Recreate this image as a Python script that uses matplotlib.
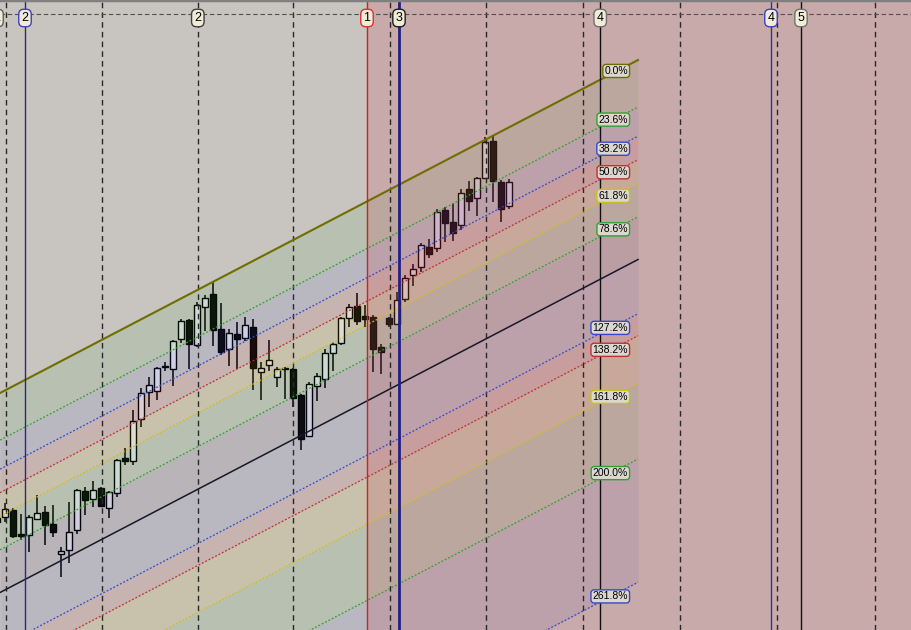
import numpy as np
import matplotlib.pyplot as plt

# candles: bar index, OHLC in price units (no price axis shown on the chart)
bar_idx = np.arange(-1, 64)
opens = [112, 113.5, 120, 95.7, 95.3, 110.7, 118, 105.7, 75.7, 79.7,
         99.7, 139, 130.7, 141.7, 121.7, 136.7, 171.7, 169.3, 210.7, 237.7,
         239.3, 264.5, 261.3, 290.7, 310, 284.7, 323.3, 336, 300.7, 281.3,
         295.7, 292.3, 302.7, 257.7, 264.7, 252.7, 262, 260.7, 235, 193.7,
         244.3, 251.3, 277.3, 287.3, 312.3, 324, 314, 312.7, 282.7, 311.7,
         306.3, 331.3, 354.7, 363.3, 383, 381.7, 420, 407.7, 404.7, 440.7,
         431.7, 451.7, 489.3, 448, 423.7]
highs = [115, 126.7, 122, 116, 115, 135, 124.3, 125, 82.7, 128,
         141, 143, 149, 143.3, 139.3, 170.7, 181.7, 220, 242, 253.3,
         263.3, 268.3, 290, 311, 311, 328, 335, 347.7, 326.7, 300.7,
         308.3, 312.7, 311, 268.3, 290, 263, 263.3, 262.3, 236, 248.3,
         256.7, 281, 288, 313.3, 326, 337.3, 325, 314.7, 286, 313,
         337.7, 355, 366, 386.7, 391, 420.7, 423.3, 426.7, 441, 449,
         453.3, 493.3, 495, 450, 450.7]
lows = [106, 108.5, 92.5, 90, 78.3, 110, 85, 93.3, 52.7, 67.3,
        95.7, 115.3, 123.3, 124, 112.3, 133.3, 165, 165, 203.3, 223.3,
        230, 259.3, 244.3, 286.7, 261, 283, 299.3, 284, 275, 264,
        260.7, 289.3, 240, 230, 259.3, 243.3, 231.3, 223.3, 180, 193,
        229.3, 241.7, 259.3, 285, 302.7, 305, 302.7, 258.3, 256, 303.3,
        305.5, 328.3, 344, 358.3, 371.7, 378.3, 388.3, 389.3, 400, 419.3,
        414.3, 451, 428.3, 408.3, 420.7]
closes = [108.5, 120.7, 94, 94.3, 112.7, 116.7, 105.3, 98.3, 78.7, 97.7,
          140, 130.3, 139.7, 124.3, 137.7, 169.7, 168.7, 209, 236.7, 244.7,
          261.7, 263, 289, 309, 285.7, 325, 331.7, 300.3, 278.3, 296.7,
          291.3, 304.7, 262.3, 261.7, 270, 261, 260.7, 232.3, 190.7, 245.7,
          253.7, 277, 285.7, 311.7, 322.7, 309.3, 310.7, 281.3, 278.3, 306.3,
          329.7, 351.7, 360.7, 384.7, 376.3, 417.7, 406.7, 396.7, 436.7, 428.7,
          451.7, 487.7, 448.7, 420.7, 448]

# fibonacci channel
fib_levels = [0.0, 0.236, 0.382, 0.5, 0.618, 0.786, 1.0, 1.272, 1.382, 1.618, 2.0, 2.618]
fib_labels = ["0.0%", "23.6%", "38.2%", "50.0%", "61.8%", "78.6%", "100.0%",
              "127.2%", "138.2%", "161.8%", "200.0%", "261.8%"]
fib_colors = ["#6e6e00", "#30a030", "#3848c8", "#c03030", "#c8c020", "#30a030",
              "#181828", "#3848c8", "#c03030", "#c8c020", "#30a030", "#3848c8"]
fib_fill = ["#6e6e00", "#30a030", "#3848c8", "#c03030", "#d0b000", "#30a030",
            "#303078", "#3848c8", "#c03030", "#d0b000", "#30a030", "#3848c8"]
chan_x = np.array([-0.625, 79.125])
chan_top = np.array([237.0, 570.0])
chan_width = 199.5

# time markers on top of the chart
marker_x = [-1.0, 2.5, 24.1, 45.25, 49.25, 74.4, 95.75, 99.5]
marker_text = ["1", "2", "2", "1", "3", "4", "4", "5"]
marker_edge = ["#606060", "#4040c0", "#404040", "#e03030", "#202020", "#707070", "#4040c0", "#707070"]
marker_line = [None, "#2a2a80", None, "#d02020", "#202080", "#101010", "#3030a0", "#101010"]
marker_lw = [0, 1, 0, 1, 2, 1, 1, 1]
grid_x = [0.1, 12.1, 24.1, 36.0, 48.1, 60.1, 72.25, 84.4, 96.5, 108.75]
session_start = 45.25

fig = plt.figure(figsize=(9.12, 6.3), dpi=100)
ax = fig.add_axes([0, 0, 1, 1])
ax.set_facecolor("#c8c4c0")
ax.set_xlim(-0.625, 113.375)
ax.set_ylim(0, 630)
ax.set_xticks([])
ax.set_yticks([])
for s in ax.spines.values():
    s.set_visible(False)

# candles
for i, o, h, l, c in zip(bar_idx, opens, highs, lows, closes):
    ax.plot([i, i], [l, h], color="black", lw=1.1, zorder=2, solid_capstyle="butt")
    up = c >= o
    ax.bar(i, max(abs(c - o), 1.2), bottom=min(o, c), width=0.7,
           color="#e0e0e8" if up else "#080808", edgecolor="black", lw=1, zorder=2.5)

# channel bands + lines
for k, lev in enumerate(fib_levels):
    if k > 0:
        ax.fill_between(chan_x, chan_top - fib_levels[k - 1] * chan_width,
                        chan_top - lev * chan_width, color=fib_fill[k], alpha=0.1,
                        lw=0, zorder=3)
for k, lev in enumerate(fib_levels):
    if lev == 0.0:
        ls, lw = "-", 1.5
    elif lev == 1.0:
        ls, lw = "-", 1.1
    else:
        ls, lw = (0, (1.5, 1.5)), 0.9
    ax.plot(chan_x, chan_top - lev * chan_width, color=fib_colors[k], ls=ls, lw=lw, zorder=4.5)

# right session overlay
ax.axvspan(session_start, 114, color="#cd394b", alpha=0.18, lw=0, zorder=3.5)

# grid
for gx in grid_x:
    ax.axvline(gx, color="#282828", lw=1, ls=(0, (4, 3)), zorder=4)
ax.axhline(616, color="#505050", lw=0.8, ls=(0, (4, 2.5)), zorder=4)
ax.axhline(630, color="#808080", lw=2.5, zorder=7)

# markers
for mx, t, ec, lc, lw in zip(marker_x, marker_text, marker_edge, marker_line, marker_lw):
    if lc is not None:
        ax.axvline(mx, color=lc, lw=lw, zorder=5)
    ax.text(mx, 612, t, ha="center", va="center", fontsize=9, family="Liberation Sans",
            color="black", zorder=8,
            bbox=dict(boxstyle="round,pad=0.22,rounding_size=0.4", fc="#f0ecd8", ec=ec, lw=1))

# fib labels, right aligned, centred on the line
slope = (chan_top[1] - chan_top[0]) / (chan_x[1] - chan_x[0])
for k, lev in enumerate(fib_levels):
    if lev == 1.0:
        continue
    n = len(fib_labels[k])
    cx = (631 - 3 * n - 2 - 5) / 8
    y = chan_top[0] + slope * (cx - chan_x[0]) - lev * chan_width
    ax.text((628 - 5) / 8, y, fib_labels[k], ha="right", va="center", fontsize=7.5,
            family="Liberation Sans", color="black", zorder=8,
            bbox=dict(boxstyle="round,pad=0.15,rounding_size=0.3", fc="#dcd8d0",
                      ec=fib_colors[k], lw=1))

fig.savefig("out.png", dpi=100)
